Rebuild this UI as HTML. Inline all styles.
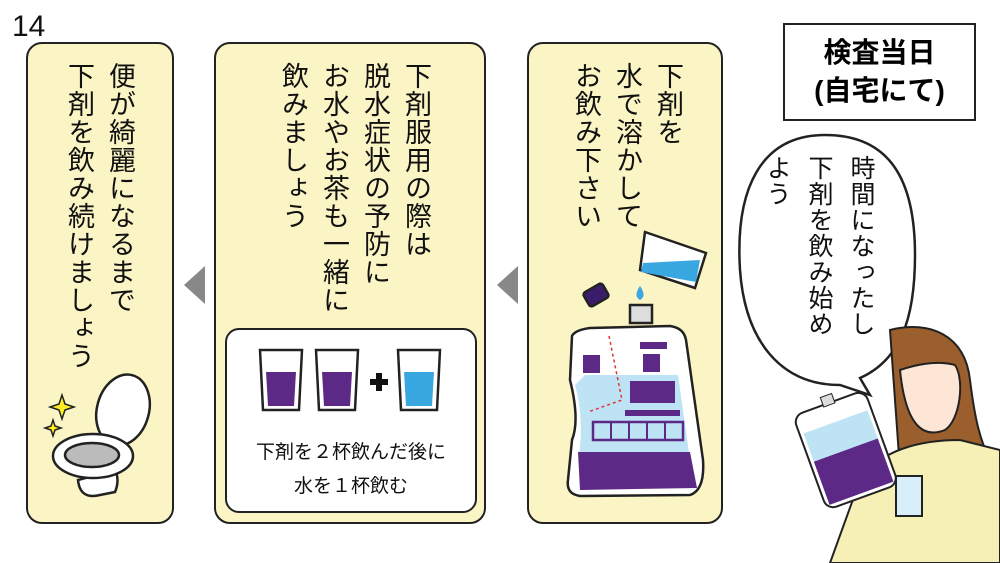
<!DOCTYPE html>
<html><head><meta charset="utf-8">
<style>
body{margin:0;width:1000px;height:563px;background:#fff;position:relative;overflow:hidden;font-family:"Liberation Sans","Noto Sans CJK JP",sans-serif;}
.p{position:absolute;background:#fbf4c4;border:2.5px solid #222;border-radius:16px;box-sizing:border-box;}
.v{position:absolute;writing-mode:vertical-rl;font-size:27px;line-height:41px;color:#111;white-space:nowrap;letter-spacing:1px;z-index:3;}
svg{position:absolute;left:0;top:0;z-index:1}
</style></head><body>
<div style="position:absolute;left:12px;top:10px;font-size:30px;line-height:34px;color:#111">14</div>
<div class="p" style="left:26px;top:42px;width:148px;height:482px"></div>
<div class="p" style="left:214px;top:42px;width:272px;height:482px"></div>
<div class="p" style="left:527px;top:42px;width:196px;height:482px"></div>
<div style="position:absolute;left:225px;top:328px;width:252px;height:185px;background:#fff;border:2.5px solid #222;border-radius:14px;box-sizing:border-box"></div>

<div class="v" style="left:58px;top:62px">便が綺麗になるまで<br>下剤を飲み続けましょう</div>
<div class="v" style="left:272px;top:62px">下剤服用の際は<br>脱水症状の予防に<br>お水やお茶も一緒に<br>飲みましょう</div>
<div class="v" style="left:565px;top:62px">下剤を<br>水で溶かして<br>お飲み下さい</div>
<div class="v" style="left:756px;top:155px;font-size:25px;line-height:42px">時間になったし<br>下剤を飲み始め<br>よう</div>

<div style="position:absolute;z-index:3;left:783px;top:23px;width:193px;height:98px;border:2.5px solid #222;box-sizing:border-box;background:#fff;text-align:center;font-weight:bold;font-size:28px;line-height:38px;padding-top:9px">検査当日<br>(自宅にて)</div>

<div style="position:absolute;z-index:3;left:225px;top:436px;width:252px;text-align:center;font-size:19px;line-height:34px;color:#111">下剤を２杯飲んだ後に<br>水を１杯飲む</div>

<svg width="1000" height="563" viewBox="0 0 1000 563">
<polygon points="205,266 205,304 184,285" fill="#888"/>
<polygon points="518,266 518,304 497,285" fill="#888"/>
<!-- cups -->
<g stroke="#222" stroke-width="2.5">
<polygon points="260,350 302,350 299,410 263,410" fill="#fff"/>
<polygon points="266,372 296,372 294,406 268,406" fill="#5c2a86" stroke="none"/>
<polygon points="316,350 358,350 355,410 319,410" fill="#fff"/>
<polygon points="322,372 352,372 350,406 324,406" fill="#5c2a86" stroke="none"/>
<polygon points="398,350 440,350 437,410 401,410" fill="#fff"/>
<polygon points="404,372 434,372 432,406 406,406" fill="#3aa8e0" stroke="none"/>
</g>
<path d="M370 382H388M379 373V391" stroke="#111" stroke-width="6"/>
<!-- toilet -->
<g stroke="#222" stroke-width="2.5">
<ellipse cx="123" cy="410" rx="26" ry="36" fill="#fff" transform="rotate(15 123 410)"/>
<path d="M78 480 Q80 500 100 495 L115 492 Q120 480 115 470Z" fill="#fff"/>
<ellipse cx="93" cy="456" rx="40" ry="22" fill="#fff"/>
<ellipse cx="92" cy="455" rx="27" ry="12" fill="#bbb"/>
</g>
<path d="M62 395 l3 9 9 3 -9 3 -3 9 -3 -9 -9 -3 9 -3z" fill="#ffee22" stroke="#222" stroke-width="1.5"/>
<path d="M53 420 l2 6 6 2 -6 2 -2 6 -2 -6 -6 -2 6 -2z" fill="#ffee22" stroke="#222" stroke-width="1.5"/>
<!-- pouch panel3 -->
<g stroke="#222" stroke-width="2.5">
<polygon points="645,232 706,253 695,288 640,270" fill="#fff"/>
<polygon points="643,263 700,260 696,282 641,272" fill="#3aa8e0" stroke="none"/>
<rect x="585" y="287" width="22" height="16" rx="3" fill="#3a1d6a" transform="rotate(-30 596 295)"/>
<rect x="630" y="305" width="22" height="18" fill="#ddd"/>
<path d="M572 336 Q575 330 590 328 L670 326 Q684 328 686 340 L703 460 Q705 490 690 495 L580 496 Q566 494 568 480 L572 440 Q580 420 570 380Z" fill="#fff"/>
</g>
<path d="M640 286 q-7 10 0 14 q7 -4 0 -14z" fill="#3aa8e0"/>
<path d="M585 375 L678 375 L690 460 L578 462 Q585 420 575 385Z" fill="#bde3f5"/>
<path d="M578 452 L690 452 L697 488 L580 490Z" fill="#5c2a86"/>
<rect x="583" y="355" width="17" height="18" fill="#5c2a86"/>
<rect x="643" y="354" width="17" height="18" fill="#5c2a86"/>
<rect x="640" y="342" width="27" height="7" fill="#5c2a86"/>
<rect x="630" y="381" width="45" height="22" fill="#5c2a86"/>
<rect x="625" y="410" width="55" height="6" fill="#5c2a86"/>
<rect x="593" y="422" width="90" height="18" fill="none" stroke="#5c2a86" stroke-width="2.5"/>
<path d="M611 422v18M629 422v18M647 422v18M665 422v18" stroke="#5c2a86" stroke-width="2"/>
<path d="M609 336 L622 400 L588 412" fill="none" stroke="#d33" stroke-width="1.5" stroke-dasharray="3 3"/>
<!-- speech bubble -->
<path d="M825 135 C760 135 735 190 740 270 C745 340 780 385 840 385 L870 395 L860 378 C900 360 915 320 915 255 C915 180 890 135 825 135Z" fill="#fff" stroke="#222" stroke-width="2.5"/>
<!-- woman -->
<path d="M890 330 C930 320 965 335 970 380 C975 420 980 440 990 460 L900 470 Z" fill="#9a5f2c" stroke="#222" stroke-width="2"/>
<path d="M900 370 C905 420 920 440 945 430 C960 420 965 380 955 365 C935 360 915 365 900 370Z" fill="#fde6d6" stroke="#222" stroke-width="2"/>
<path d="M860 480 C880 450 920 440 960 440 L1000 450 L1000 563 L830 563 Z" fill="#f6f0b6" stroke="#222" stroke-width="2"/>
<g transform="rotate(-20 845 445)">
<rect x="806" y="400" width="76" height="100" rx="10" fill="#fff" stroke="#222" stroke-width="2"/>
<rect x="810" y="450" width="68" height="46" fill="#5c2a86"/>
<rect x="810" y="420" width="68" height="30" fill="#bde3f5"/>
<rect x="838" y="392" width="12" height="10" fill="#ddd" stroke="#222"/>
</g>
<rect x="896" y="476" width="26" height="40" fill="#d8eef8" stroke="#222" stroke-width="2"/>
</svg>
</body></html>
